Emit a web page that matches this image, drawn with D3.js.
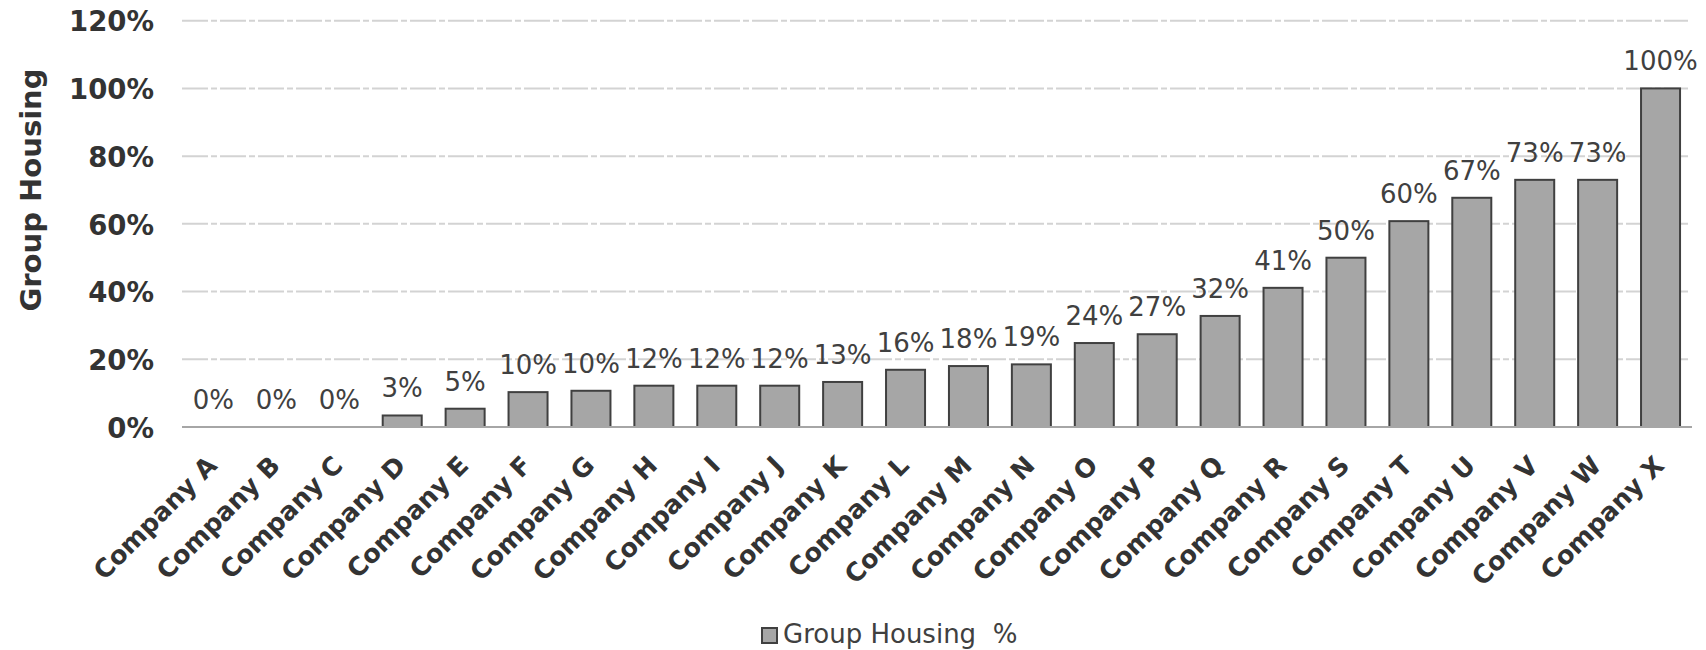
<!DOCTYPE html>
<html>
<head>
<meta charset="utf-8">
<script src="https://cdn.jsdelivr.net/npm/d3@7"></script>
<style>
  html, body { margin: 0; padding: 0; background: #fff; }
  svg { display: block; }
  text { font-family: "DejaVu Sans", Verdana, sans-serif; }
</style>
</head>
<body>
<svg id="chart" width="1706" height="650"></svg>
<script>
const categories = ["Company A","Company B","Company C","Company D","Company E","Company F","Company G","Company H","Company I","Company J","Company K","Company L","Company M","Company N","Company O","Company P","Company Q","Company R","Company S","Company T","Company U","Company V","Company W","Company X"];
const values = [0, 0, 0, 3.4, 5.4, 10.3, 10.7, 12.2, 12.2, 12.2, 13.3, 16.9, 18.0, 18.5, 24.8, 27.4, 32.8, 41.1, 50.0, 60.8, 67.7, 73.0, 73.0, 100];
const dataLabels = ["0%","0%","0%","3%","5%","10%","10%","12%","12%","12%","13%","16%","18%","19%","24%","27%","32%","41%","50%","60%","67%","73%","73%","100%"];
const yTicks = [0, 20, 40, 60, 80, 100, 120];
const yTickLabels = ["0%","20%","40%","60%","80%","100%","120%"];
const yTitle = "Group Housing";
const legendLabel = "Group Housing  %";

(function () {
const svg = d3.select("#chart");
const pLeft = 182, pRight = 1692, pTop = 20.7, pBottom = 427;

const x = d3.scaleBand().domain(categories).range([pLeft, pRight]).paddingInner(0.38).paddingOuter(0.19);
const y = d3.scaleLinear().domain([0, 120]).range([pBottom, pTop]);

// gridlines
svg.append("g").selectAll("line").data(yTicks.filter(d => d > 0)).join("line")
  .attr("x1", pLeft).attr("x2", pRight - 4)
  .attr("y1", d => y(d)).attr("y2", d => y(d))
  .attr("stroke", "#d3d3d3").attr("stroke-width", 2)
  .attr("stroke-dasharray", "26,3,6,3");

// y tick labels
const yAxis = d3.axisLeft(y).tickValues(yTicks).tickFormat((d, i) => yTickLabels[i]).tickSize(0).tickPadding(0);
const gy = svg.append("g").attr("transform", `translate(154,0)`).call(yAxis);
gy.select(".domain").remove();
gy.selectAll("text")
  .attr("font-family", "DejaVu Sans, Verdana, sans-serif")
  .attr("font-size", 27.5).attr("font-weight", "bold").attr("fill", "#333333")
  .attr("dy", "0.37em");

// bars
svg.append("g").selectAll("rect").data(categories).join("rect")
  .attr("x", d => x(d)).attr("width", x.bandwidth())
  .attr("y", (d, i) => y(values[i])).attr("height", (d, i) => pBottom - y(values[i]))
  .attr("fill", "#a6a6a6").attr("stroke", "#404040").attr("stroke-width", 2);

// x axis line
svg.append("line").attr("x1", pLeft).attr("x2", pRight).attr("y1", pBottom).attr("y2", pBottom)
  .attr("stroke", "#a6a6a6").attr("stroke-width", 2);

// data labels
svg.append("g").selectAll("text").data(categories).join("text")
  .attr("x", d => x(d) + x.bandwidth() / 2)
  .attr("y", (d, i) => y(values[i]) - 18)
  .attr("text-anchor", "middle")
  .attr("font-size", 26).attr("fill", "#404040")
  .text((d, i) => dataLabels[i]);

// x labels via axis
const xAxis = d3.axisBottom(x).tickSize(0).tickPadding(0);
const gx = svg.append("g").attr("transform", `translate(0,${pBottom})`).call(xAxis);
gx.select(".domain").remove();
gx.selectAll("text")
  .attr("font-family", "DejaVu Sans, Verdana, sans-serif")
  .attr("font-size", 25.5).attr("font-weight", "bold").attr("fill", "#333333")
  .attr("text-anchor", "end")
  .attr("dy", 0).attr("y", 0)
  .attr("transform", "translate(5,40) rotate(-45)");

// y title
svg.append("text")
  .attr("transform", "translate(41,190) rotate(-90)")
  .attr("text-anchor", "middle")
  .attr("font-size", 29).attr("font-weight", "bold").attr("fill", "#333333")
  .text(yTitle);

// legend
const lg = svg.append("g");
lg.append("rect").attr("x", 762).attr("y", 628).attr("width", 15).attr("height", 15)
  .attr("fill", "#a6a6a6").attr("stroke", "#404040").attr("stroke-width", 2);
lg.append("text").attr("x", 783).attr("y", 643)
  .attr("font-size", 26).attr("fill", "#404040")
  .style("white-space", "pre")
  .text(legendLabel);
})();
</script>
</body>
</html>
